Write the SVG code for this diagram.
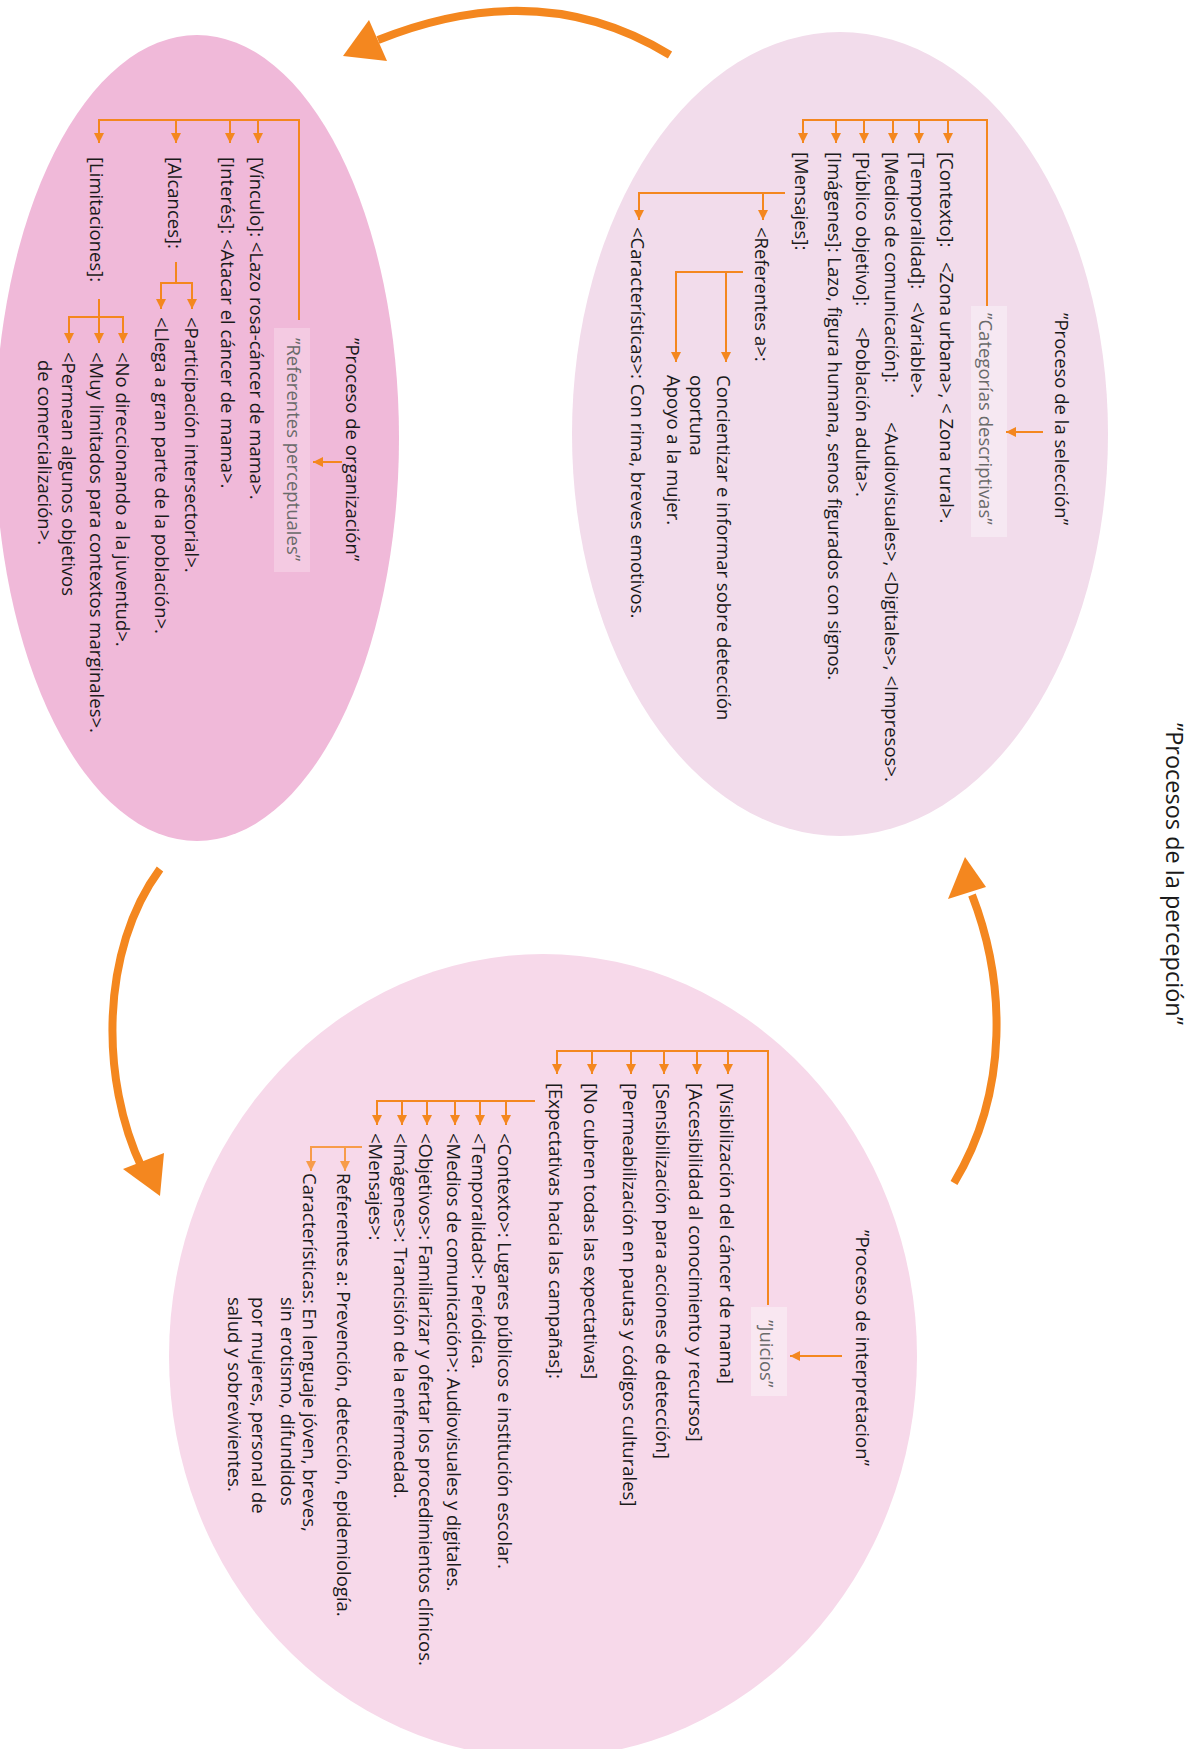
<svg xmlns="http://www.w3.org/2000/svg" width="1204" height="1749" viewBox="0 0 1204 1749">
<style>
.t{font-family:"Open Sans","Noto Sans",sans-serif;font-size:18.5px;fill:#1a1a1a;white-space:pre}
.g{fill:#6a6a6a}
.ttl{font-size:23.5px}
.c{fill:none;stroke:#F4871F;stroke-width:2}
.cl{fill:none;stroke:#F79C4A;stroke-width:2}
.a{marker-end:url(#ah)}
.al{marker-end:url(#ahl)}
.big{fill:none;stroke:#F4871F;stroke-width:8}
.bh{fill:#F4871F}
</style>
<defs>
<marker id="ah" markerUnits="userSpaceOnUse" markerWidth="10" markerHeight="10" refX="10" refY="5" orient="auto"><path d="M0,0 L10,5 L0,10 z" fill="#F4871F"/></marker>
<marker id="ahl" markerUnits="userSpaceOnUse" markerWidth="10" markerHeight="10" refX="10" refY="5" orient="auto"><path d="M0,0 L10,5 L0,10 z" fill="#F79C4A"/></marker>
</defs>
<rect width="1204" height="1749" fill="#ffffff"/>

<g id="node-seleccion">
<ellipse cx="840" cy="434" rx="268" ry="402" fill="#F2DCEB"/>
<rect x="971" y="306" width="36" height="231" fill="#F6E8F2"/>
<g transform="matrix(0 1 -1 0 1204 0)">
<text class="t" x="313" y="149">”Proceso de la selección”</text>
<text class="t g" x="313" y="225">”Categorías descriptivas”</text>
<text class="t" y="264"><tspan x="152">[Contexto]:</tspan><tspan x="262">&lt;Zona urbana&gt;, &lt; Zona rural&gt;.</tspan></text>
<text class="t" y="293"><tspan x="152">[Temporalidad]:</tspan><tspan x="302">&lt;Variable&gt;.</tspan></text>
<text class="t" y="319"><tspan x="152">[Medios de comunicación]:</tspan><tspan x="422">&lt;Audiovisuales&gt;, &lt;Digitales&gt;, &lt;Impresos&gt;.</tspan></text>
<text class="t" y="348"><tspan x="152">[Público objetivo]:</tspan><tspan x="327">&lt;Población adulta&gt;.</tspan></text>
<text class="t" x="152" y="376">[Imágenes]: Lazo, figura humana, senos figurados con signos.</text>
<text class="t" x="152" y="409">[Mensajes]:</text>
<text class="t" x="227" y="449">&lt;Referentes a&gt;:</text>
<text class="t" x="227" y="573">&lt;Características&gt;: Con rima, breves emotivos.</text>
<text class="t" x="375" y="487">Concientizar e informar sobre detección</text>
<text class="t" x="375" y="514">oportuna</text>
<text class="t" x="375" y="537">Apoyo a la mujer.</text>
</g>
</g>

<g id="node-organizacion">
<ellipse cx="197" cy="438" rx="202" ry="403" fill="#F0B9D9"/>
<rect x="274" y="328" width="36" height="244" fill="#F4CAE2"/>
<g transform="matrix(0 1 -1 0 1204 0)">
<text class="t" x="338" y="858">”Proceso de organización”</text>
<text class="t g" x="338" y="917">”Referentes perceptuales”</text>
<text class="t" x="157" y="954">[Vínculo]: &lt;Lazo rosa-cáncer de mama&gt;.</text>
<text class="t" x="157" y="983">[Interés]: &lt;Atacar el cáncer de mama&gt;.</text>
<text class="t" x="157" y="1036">[Alcances]:</text>
<text class="t" x="157" y="1114">[Limitaciones]:</text>
<text class="t" x="317" y="1019">&lt;Participación intersectorial&gt;.</text>
<text class="t" x="317" y="1049">&lt;Llega a gran parte de la población&gt;.</text>
<text class="t" x="352" y="1088">&lt;No direccionando a la juventud&gt;.</text>
<text class="t" x="352" y="1114">&lt;Muy limitados para contextos marginales&gt;.</text>
<text class="t" x="352" y="1142">&lt;Permean algunos objetivos</text>
<text class="t" x="360" y="1166">de comercialización&gt;.</text>
</g>
</g>

<g id="node-interpretacion">
<ellipse cx="543" cy="1356" rx="374" ry="402" fill="#F7D9EA"/>
<rect x="751" y="1307" width="36" height="89" fill="#F9E7F1"/>
<g transform="matrix(0 1 -1 0 1204 0)">
<text class="t" x="1230" y="348">”Proceso de interpretacion”</text>
<text class="t g" x="1320" y="444">”Juicios”</text>
<text class="t" x="1083" y="484">[Visibilización del cáncer de mama]</text>
<text class="t" x="1083" y="515">[Accesibilidad al conocimiento y recursos]</text>
<text class="t" x="1083" y="548">[Sensibilización para acciones de detección]</text>
<text class="t" x="1083" y="581">[Permeabilización en pautas y códigos culturales]</text>
<text class="t" x="1083" y="620">[No cubren todas las expectativas]</text>
<text class="t" x="1083" y="655">[Expectativas hacia las campañas]:</text>
<text class="t" x="1133" y="706">&lt;Contexto&gt;: Lugares públicos e institución escolar.</text>
<text class="t" x="1133" y="732">&lt;Temporalidad&gt;: Periódica.</text>
<text class="t" x="1133" y="757">&lt;Medios de comunicación&gt;: Audiovisuales y digitales.</text>
<text class="t" x="1133" y="785">&lt;Objetivos&gt;: Familiarizar y ofertar los procedimientos clínicos.</text>
<text class="t" x="1133" y="810">&lt;Imágenes&gt;: Trancisión de la enfermedad.</text>
<text class="t" x="1133" y="835">&lt;Mensajes&gt;:</text>
<text class="t" x="1173" y="867">Referentes a: Prevención, detección, epidemiología.</text>
<text class="t" x="1173" y="901">Características: En lenguaje jóven, breves,</text>
<text class="t" x="1297" y="923">sin erotismo, difundidos</text>
<text class="t" x="1297" y="952">por mujeres, personal de</text>
<text class="t" x="1297" y="976">salud y sobrevivientes.</text>
</g>
</g>

<g id="title">
<text class="t ttl" transform="matrix(0 1 -1 0 1204 0)" x="723" y="38">”Procesos de la percepción”</text>
</g>

<g id="connectors">
<!-- seleccion -->
<path class="c a" d="M1043,432 H1006"/>
<path class="c" d="M987,306 V120 H803"/>
<path class="c a" d="M948,120 V143"/>
<path class="c a" d="M919,120 V143"/>
<path class="c a" d="M893,120 V143"/>
<path class="c a" d="M864,120 V143"/>
<path class="c a" d="M836,120 V143"/>
<path class="c a" d="M803,119 V143"/>
<path class="c" d="M785,193 H639"/>
<path class="c a" d="M763,193 V220"/>
<path class="c a" d="M639,192 V220"/>
<path class="c" d="M743,272 H676"/>
<path class="c a" d="M726,272 V362"/>
<path class="c a" d="M676,271 V362"/>
<!-- organizacion -->
<path class="c a" d="M342,462 H313"/>
<path class="c" d="M299,320 V120 H99"/>
<path class="c a" d="M258,120 V143"/>
<path class="c a" d="M230,120 V143"/>
<path class="c a" d="M176,120 V143"/>
<path class="c a" d="M99,119 V143"/>
<path class="c" d="M176,262 V283 M161,283 H192"/>
<path class="c a" d="M192,282 V309"/>
<path class="c a" d="M161,282 V309"/>
<path class="c" d="M99,299 V317 M69,317 H123"/>
<path class="c a" d="M123,316 V343"/>
<path class="c a" d="M99,317 V343"/>
<path class="c a" d="M69,316 V343"/>
<!-- interpretacion -->
<path class="c a" d="M842,1356 H790"/>
<path class="c" d="M768,1305 V1051 H557"/>
<path class="c a" d="M728,1051 V1074"/>
<path class="c a" d="M697,1051 V1074"/>
<path class="c a" d="M664,1051 V1074"/>
<path class="c a" d="M631,1051 V1074"/>
<path class="c a" d="M592,1051 V1074"/>
<path class="c a" d="M557,1050 V1074"/>
<path class="c" d="M535,1101 H377"/>
<path class="c a" d="M506,1101 V1125"/>
<path class="c a" d="M480,1101 V1125"/>
<path class="c a" d="M455,1101 V1125"/>
<path class="c a" d="M427,1101 V1125"/>
<path class="c a" d="M402,1101 V1125"/>
<path class="c a" d="M377,1100 V1125"/>
<path class="cl" d="M362,1147 H311"/>
<path class="cl al" d="M345,1147 V1171"/>
<path class="cl al" d="M311,1146 V1171"/>
<!-- big cycle arrows -->
<path class="big" d="M670,55 Q540,-25 378,40"/>
<polygon class="bh" points="343,56 369,20 387,61"/>
<path class="big" d="M160,869 C100,950 100,1080 142,1168"/>
<polygon class="bh" points="123,1169 164,1153 160,1196"/>
<path class="big" d="M954,1183 C1010,1090 1005,980 972,895"/>
<polygon class="bh" points="948,899 986,887 965,857"/>
</g>
</svg>
